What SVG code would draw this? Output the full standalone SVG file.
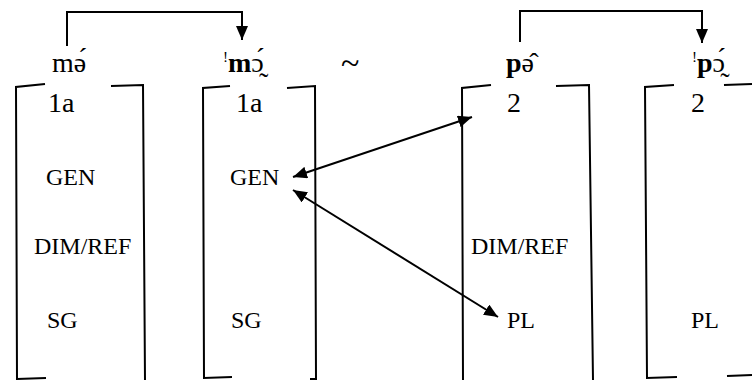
<svg xmlns="http://www.w3.org/2000/svg" width="752" height="380" viewBox="0 0 752 380">
<style>
.br{fill:none;stroke:#000;stroke-width:2}
.cn{fill:none;stroke:#000;stroke-width:2}
text{font-family:'Liberation Serif','Times New Roman',serif;fill:#000}
.hw{font-size:28px}
.top{font-size:28px}
.lb{font-size:24px}
.b{font-weight:bold}
.sup{font-size:15px}
</style>
<defs>
<marker id="ah" viewBox="0 0 14 12" refX="14" refY="6" markerWidth="14" markerHeight="12" markerUnits="userSpaceOnUse" orient="auto-start-reverse">
<path d="M0,0 L14,6 L0,12 z" fill="#000"/>
</marker>
</defs>
<rect width="752" height="380" fill="#fff"/>
<g id="headwords">
<text class="hw" x="52" y="72">mə́</text>
<text class="hw" x="223" y="72"><tspan class="sup" dy="-10">!</tspan><tspan class="b" dy="10">m</tspan>ɔ̰́</text>
<text class="hw" x="341" y="74" style="font-size:34px">~</text>
<text class="hw" x="506" y="72"><tspan class="b">p</tspan>ə̂</text>
<text class="hw" x="692" y="72"><tspan class="sup" dy="-10">!</tspan><tspan class="b" dy="10">p</tspan>ɔ̰́</text>
</g>
<g id="box1">
<path class="br" d="M45,84 L16,87 L17,379 L46,378"/>
<path class="br" d="M111,86 L143,85 L145,380"/>
<text class="top" x="48" y="112">1a</text>
<text class="lb" x="46" y="185">GEN</text>
<text class="lb" x="34" y="254">DIM/REF</text>
<text class="lb" x="47" y="328">SG</text>
</g>
<g id="box2">
<path class="br" d="M230,86 L203,88 L204,378 L232,377"/>
<path class="br" d="M287,88 L315,86 L316,379 L310,379"/>
<text class="top" x="236" y="112">1a</text>
<text class="lb" x="230" y="185">GEN</text>
<text class="lb" x="231" y="328">SG</text>
</g>
<g id="box3">
<path class="br" d="M491,85 L462,88 L463,380"/>
<path class="br" d="M556,86 L589,85 L593,380"/>
<text class="top" x="507" y="112">2</text>
<text class="lb" x="471" y="254">DIM/REF</text>
<text class="lb" x="507" y="328">PL</text>
</g>
<g id="box4">
<path class="br" d="M674,85 L645,87 L647,378 L677,377"/>
<path class="br" d="M724,85 L752,84"/>
<path class="br" d="M727,376 L752,375"/>
<text class="top" x="691" y="112">2</text>
<text class="lb" x="691" y="328">PL</text>
</g>
<g id="connectors">
<path class="cn" d="M67,46 V12 H242 V40" marker-end="url(#ah)"/>
<path class="cn" d="M520,42 V11 H702 V43" marker-end="url(#ah)"/>
<path class="cn" d="M293,177 L472,117" marker-start="url(#ah)" marker-end="url(#ah)"/>
<path class="cn" d="M293,190 L498,317" marker-start="url(#ah)" marker-end="url(#ah)"/>
</g>
</svg>
